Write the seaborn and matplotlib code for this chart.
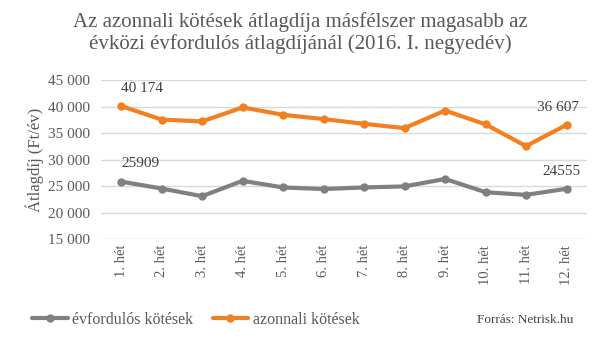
import matplotlib
matplotlib.use("Agg")
import matplotlib.pyplot as plt
import seaborn as sns
import pandas as pd
from matplotlib.ticker import FuncFormatter
from matplotlib.lines import Line2D

weeks = ["1. hét", "2. hét", "3. hét", "4. hét", "5. hét", "6. hét",
         "7. hét", "8. hét", "9. hét", "10. hét", "11. hét", "12. hét"]
evfordulos = [25909, 24600, 23150, 26050, 24800, 24500, 24800, 25000, 26400, 23900, 23400, 24555]
azonnali = [40174, 37600, 37250, 39900, 38500, 37700, 36800, 36000, 39300, 36700, 32600, 36607]
series_names = ["évfordulós kötések", "azonnali kötések"]
yticks = [15000, 20000, 25000, 30000, 35000, 40000, 45000]

df = pd.DataFrame({
    "week": weeks * 2,
    "x": list(range(len(weeks))) * 2,
    "value": evfordulos + azonnali,
    "series": [series_names[0]] * len(weeks) + [series_names[1]] * len(weeks),
})

sns.set_theme(style="white")
plt.rcParams["font.family"] = ["Liberation Serif", "DejaVu Serif"]

fig = plt.figure(figsize=(6, 3.42), dpi=100)
ax = fig.add_axes([0.168, 0.30, 0.81, 0.465])

palette = {series_names[0]: "#808080", series_names[1]: "#F28021"}
sns.lineplot(data=df, x="x", y="value", hue="series", palette=palette,
             marker="o", markersize=6, linewidth=3, markeredgewidth=0,
             ax=ax, legend=False)

ax.set_ylim(15000, 45000)
ax.set_yticks(yticks)
ax.yaxis.set_major_formatter(FuncFormatter(lambda v, p: f"{int(v):,}".replace(",", " ")))
ax.set_xlim(-0.5, len(weeks) - 0.5)
ax.set_xticks(range(len(weeks)))
ax.set_xticklabels(weeks, rotation=90, fontsize=10.5, color="#595959")
ax.tick_params(axis="y", labelsize=11, labelcolor="#595959", length=0, pad=8)
ax.tick_params(axis="x", length=0, pad=4)
ax.grid(axis="y", color="#D9D9D9", linewidth=1)
ax.set_axisbelow(True)
for s in ax.spines.values():
    s.set_visible(False)
ax.set_xlabel("")
ax.set_ylabel("Átlagdíj (Ft/év)", fontsize=12, color="#595959", labelpad=3)

def fmt_space(v):
    return f"{v:,}".replace(",", " ")

ax.annotate(fmt_space(azonnali[0]), (0, azonnali[0]), xytext=(0, 8), textcoords="offset points",
            ha="left", va="bottom", fontsize=11, color="#404040")
ax.annotate(str(evfordulos[0]), (0, evfordulos[0]), xytext=(0, 8), textcoords="offset points",
            ha="left", va="bottom", fontsize=11, color="#404040")
ax.annotate(fmt_space(azonnali[-1]), (11, azonnali[-1]), xytext=(-6, 8), textcoords="offset points",
            ha="center", va="bottom", fontsize=11, color="#404040")
ax.annotate(str(evfordulos[-1]), (11, evfordulos[-1]), xytext=(-4, 8), textcoords="offset points",
            ha="center", va="bottom", fontsize=11, color="#404040")

fig.text(0.5, 0.965, "Az azonnali kötések átlagdíja másfélszer magasabb az\névközi évfordulós átlagdíjánál (2016. I. negyedév)",
         ha="center", va="top", fontsize=15, color="#595959", linespacing=1.15)

handles = [Line2D([0], [0], color=palette[n], lw=3, marker="o", markersize=5) for n in series_names]
fig.legend(handles, series_names, loc="lower left", bbox_to_anchor=(0.03, 0.0), ncol=2,
           frameon=False, fontsize=11.5, handlelength=2.2, handletextpad=0.3, columnspacing=1.2,
           labelcolor="#595959")
fig.text(0.955, 0.065, "Forrás: Netrisk.hu", ha="right", va="center", fontsize=9.5, color="#404040")

fig.savefig("out.png", dpi=100, facecolor="white")
